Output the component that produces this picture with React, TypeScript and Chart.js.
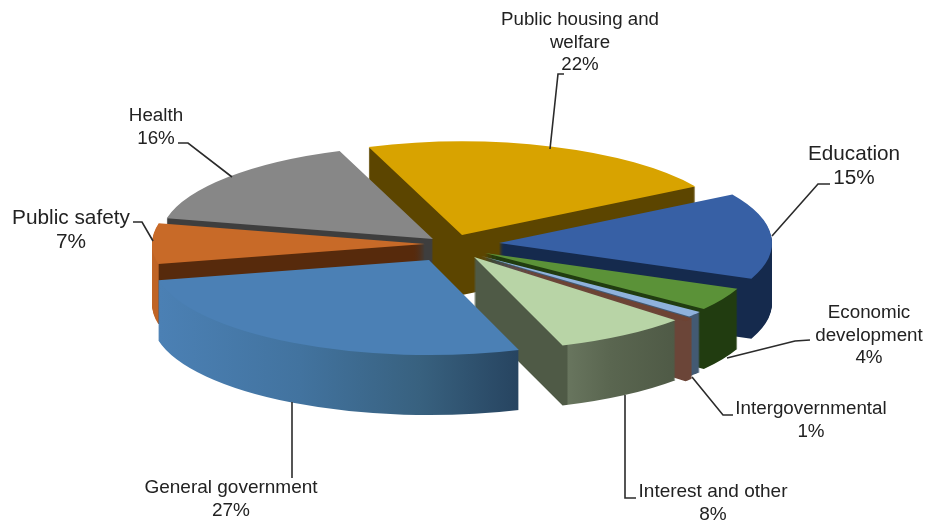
import React, { useEffect, useRef } from "react";
import { Chart, registerables } from "chart.js";

Chart.register(...registerables);

// Budget shares, clockwise from the upper-left edge of the housing slice.
const categories = [
  "Public housing and welfare",
  "Education",
  "Economic development",
  "Intergovernmental",
  "Other transfers",
  "Interest and other",
  "General government",
  "Public safety",
  "Health",
];
const shares = [22, 15, 4, 1, 0.6, 8, 27, 7, 16];
const topColors = ["#d8a300", "#3760a5", "#5b9238", "#8fb2dc", "#6e4333", "#b8d4a6", "#4b80b5", "#c86a28", "#878787"];

// Colour stops of each slice's extruded wall, as [canvas x, colour].
type Stop = [number, string];
const wallStops: Stop[][] = [
  [[0, "#5c4500"], [928, "#5c4500"]],
  [[0, "#152a4d"], [928, "#152a4d"]],
  [[0, "#213c10"], [928, "#213c10"]],
  [[0, "#435a73"], [928, "#435a73"]],
  [[0, "#6b4538"], [928, "#6b4538"]],
  [[567, "#4f5a46"], [568, "#68755e"], [610, "#5a6650"], [675, "#4f5a46"]],
  [[160, "#4b80b4"], [300, "#42739f"], [420, "#38617f"], [522, "#26435f"]],
  [[158, "#c06425"], [159.5, "#572a0c"], [928, "#572a0c"]],
  [[0, "#3e3e3e"], [928, "#3e3e3e"]],
];

// Screen-space displacement of each slice away from the shared centre.
const explode: [number, number][] = [
  [11, -14], [48, -6], [34, 4], [30, 7], [33, 9], [23, 8], [-22, 11], [-26, -5], [-18, -10],
];
// Radial enlargement of each slice; the near slice reads slightly larger.
const enlarge = [1, 1, 1, 1, 1, 1, 1.015, 1, 1];
// Back slices are painted first so nearer ones overlap them.
const paintOrder = [0, 8, 1, 7, 2, 3, 4, 5, 6];

const SQUASH = 0.343;
const DEPTH = 60;

type Caption = { lines: string[]; x: number; y: number; size: number; step: number };
const captions: Caption[] = [
  { lines: ["Public housing and", "welfare", "22%"], x: 580, y: 20, size: 18.7, step: 22.5 },
  { lines: ["Education", "15%"], x: 854, y: 154, size: 20.7, step: 24 },
  { lines: ["Economic", "development", "4%"], x: 869, y: 313, size: 18.8, step: 22.5 },
  { lines: ["Intergovernmental", "1%"], x: 811, y: 409, size: 18.8, step: 23 },
  { lines: ["Interest and other", "8%"], x: 713, y: 492, size: 19, step: 23 },
  { lines: ["General government", "27%"], x: 231, y: 488, size: 19, step: 23 },
  { lines: ["Public safety", "7%"], x: 71, y: 218, size: 20.8, step: 24 },
  { lines: ["Health", "16%"], x: 156, y: 116, size: 18.8, step: 23 },
];
const leaders: [number, number][][] = [
  [[564, 74], [558, 74], [550, 149]],
  [[830, 184], [818, 184], [772, 236]],
  [[810, 340], [795, 341], [727, 358]],
  [[733, 415], [723, 415], [692, 377]],
  [[625, 395], [625, 498], [636, 498]],
  [[292, 402], [292, 478]],
  [[133, 222], [142, 222], [153, 241]],
  [[178, 143], [188, 143], [232, 177]],
];

const extrudedPie = {
  id: "extrudedPie",
  beforeDatasetsDraw(chart: any) {
    const ctx: CanvasRenderingContext2D = chart.ctx;
    const arcs = chart.getDatasetMeta(0).data;
    for (const i of paintOrder) {
      const arc = arcs[i];
      const [dx, dy] = explode[i];
      const k = enlarge[i];
      const base = arc.options;
      const face = (fill: any, lift: number) => {
        ctx.save();
        ctx.translate(arc.x + dx, arc.y + dy + lift);
        ctx.scale(k, SQUASH * k);
        ctx.translate(-arc.x, -arc.y);
        arc.options = { ...base, backgroundColor: fill };
        arc.draw(ctx);
        ctx.restore();
      };
      const stops = wallStops[i];
      const x0 = stops[0][0];
      const x1 = stops[stops.length - 1][0];
      // The gradient lives in the slice's local space, so undo its transform.
      const toLocal = (x: number) => (x - arc.x - dx) / k + arc.x;
      const wall = ctx.createLinearGradient(toLocal(x0), 0, toLocal(x1), 0);
      stops.forEach(([x, c]) => wall.addColorStop((x - x0) / (x1 - x0), c));
      for (let d = DEPTH; d > 0; d--) face(wall, d);
      face(base.backgroundColor, 0);
      arc.options = base;
    }
    return false;
  },
  afterDraw(chart: any) {
    const ctx: CanvasRenderingContext2D = chart.ctx;
    ctx.save();
    ctx.strokeStyle = "#2b2b2b";
    ctx.lineWidth = 1.6;
    for (const path of leaders) {
      ctx.beginPath();
      path.forEach(([x, y], k) => (k ? ctx.lineTo(x, y) : ctx.moveTo(x, y)));
      ctx.stroke();
    }
    ctx.fillStyle = "#222";
    ctx.textAlign = "center";
    ctx.textBaseline = "middle";
    for (const c of captions) {
      ctx.font = `${c.size}px "Liberation Sans"`;
      c.lines.forEach((t, k) => ctx.fillText(t, c.x, c.y + k * c.step));
    }
    ctx.restore();
  },
};

export default function App() {
  const ref = useRef<HTMLCanvasElement>(null);
  useEffect(() => {
    const chart = new Chart(ref.current as HTMLCanvasElement, {
      type: "pie",
      data: {
        labels: categories,
        datasets: [{ data: shares, backgroundColor: topColors, borderWidth: 0 }],
      },
      options: {
        responsive: false,
        animation: false,
        rotation: -20,
        radius: 273,
        layout: { padding: { right: 26, bottom: 27 } },
        plugins: { legend: { display: false }, tooltip: { enabled: false } },
        events: [],
      },
      plugins: [extrudedPie],
    } as any);
    return () => chart.destroy();
  }, []);
  return (
    <div style={{ position: "fixed", left: 0, top: 0, width: 928, height: 525, background: "#fff" }}>
      <canvas ref={ref} width={928} height={525} style={{ display: "block" }} />
    </div>
  );
}
